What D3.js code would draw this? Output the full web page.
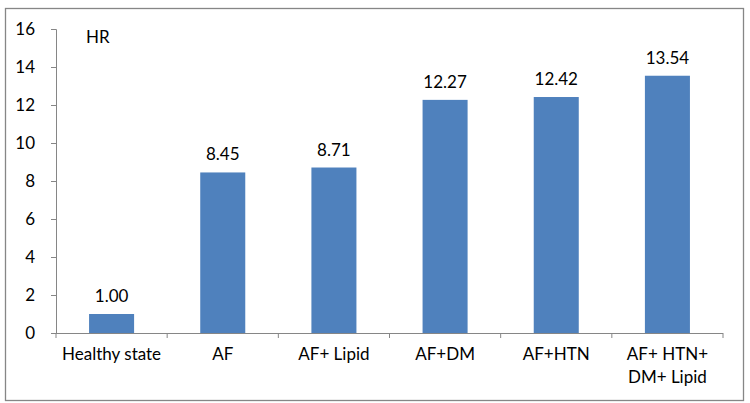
<!DOCTYPE html>
<html><head><meta charset="utf-8">
<script src="https://cdn.jsdelivr.net/npm/d3@7"></script>
<style>body{margin:0;background:#fff}svg{display:block}text{font-family:Lato,"Open Sans",sans-serif;fill:#000}</style>
</head><body>
<svg id="c" width="750" height="403"></svg>
<script>
const categories = [["Healthy state"],["AF"],["AF+ Lipid"],["AF+DM"],["AF+HTN"],["AF+ HTN+","DM+ Lipid"]];
const values = [1.00, 8.45, 8.71, 12.27, 12.42, 13.54];
const yTicks = [0,2,4,6,8,10,12,14,16];
const yTitle = "HR";

const svg = d3.select("#c");
svg.append("rect").attr("x",5.5).attr("y",8.5).attr("width",738).attr("height",392)
  .attr("fill","#fff").attr("stroke","#868686").attr("stroke-width",1.3);

const ids = d3.range(categories.length);
const x = d3.scaleBand().domain(ids).range([56,723]).paddingInner(0.595).paddingOuter(0.2975);
const y = d3.scaleLinear().domain([0,16]).range([333,29]);

// y axis
const ya = svg.append("g").attr("transform","translate(56,0)")
  .call(d3.axisLeft(y).tickValues(yTicks).tickSize(5).tickPadding(16).tickFormat(d3.format("d")));
ya.select(".domain").attr("stroke","#868686").attr("d","M-5,29.5H0.5V333.5");
ya.selectAll(".tick line").attr("stroke","#868686");
ya.selectAll("text").style("font-size","17px").attr("fill","#000");

// bars
svg.selectAll("rect.bar").data(values).join("rect").attr("class","bar")
  .attr("x",(d,i)=>x(i)).attr("width",x.bandwidth())
  .attr("y",d=>y(d)).attr("height",d=>y(0)-y(d)).attr("fill","#4F81BD");

// x axis
const step = x.step();
const xa = svg.append("g");
xa.append("line").attr("x1",56).attr("x2",723).attr("y1",333.5).attr("y2",333.5).attr("stroke","#868686");
xa.selectAll("line.t").data(d3.range(categories.length+1)).join("line").attr("class","t")
  .attr("x1",i=>56+i*step).attr("x2",i=>56+i*step).attr("y1",333).attr("y2",338).attr("stroke","#868686");

const lab = svg.selectAll("text.xl").data(categories).join("text").attr("class","xl")
  .attr("text-anchor","middle").style("font-size","17px")
  .attr("x",(d,i)=>x(i)+x.bandwidth()/2).attr("y",360);
lab.selectAll("tspan").data(d=>d).join("tspan")
  .attr("x",function(){return this.parentNode.getAttribute("x");})
  .attr("dy",(d,j)=>j?23:0).text(d=>d);

// value labels
svg.selectAll("text.vl").data(values).join("text").attr("class","vl")
  .attr("text-anchor","middle").style("font-size","17px")
  .attr("x",(d,i)=>x(i)+x.bandwidth()/2).attr("y",d=>y(d)-12)
  .text(d=>d.toFixed(2));

svg.append("text").attr("x",86).attr("y",43).style("font-size","17px").text(yTitle);
</script>
</body></html>
